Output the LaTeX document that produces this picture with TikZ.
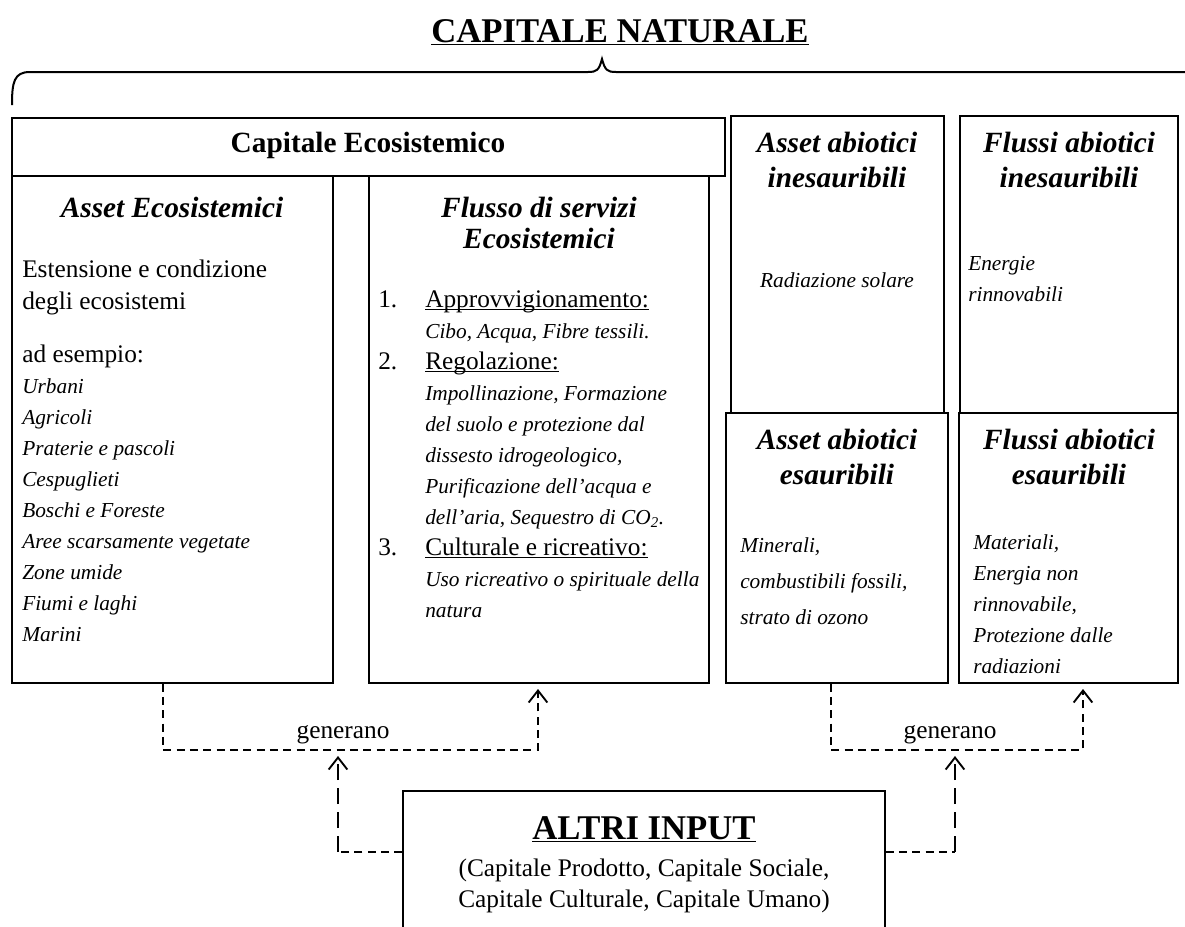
\documentclass[tikz,border=0pt]{standalone}
\usepackage{fontspec}
\setmainfont{Liberation Serif}
\usetikzlibrary{arrows.meta}
\usetikzlibrary{fit}
\tikzset{>={Straight Barb[length=9pt,width=14pt,line width=1.4pt]}}
\tikzset{
  panel/.style={draw, line width=0.8pt, rectangle, inner sep=0pt},
  titlebf/.style={font=\fontsize{26}{30}\selectfont\bfseries, anchor=base, inner sep=0pt},
  head/.style={font=\fontsize{22}{26.25}\selectfont\bfseries\itshape, align=center, anchor=base, inner sep=0pt},
  body/.style={font=\fontsize{19}{23.25}\selectfont, align=left, anchor=base west, inner sep=0pt},
  bodyit/.style={font=\fontsize{16}{23.25}\selectfont\itshape, align=left, anchor=base west, inner sep=0pt},
  genline/.style={line width=1.4pt, dash pattern=on 6pt off 4pt},
  altline/.style={line width=1.9pt, dash pattern=on 12pt off 6pt}
}
\newcommand{\ital}[1]{{\fontsize{16}{23.25}\selectfont\itshape #1}}
\newsavebox{\sottobox}
\newcommand{\sottol}[2][0.8pt]{\sbox{\sottobox}{#2}\rlap{\rule[-2.6pt]{\wd\sottobox}{#1}}\usebox{\sottobox}}

\begin{document}
\begin{tikzpicture}[x=0.75pt,y=-0.75pt]
\useasboundingbox (0,0) rectangle (1185,926);
\clip (0,0) rectangle (1185,926);

% title and brace
\node[titlebf] (titolo) at (620,42) {\sottol[1.4pt]{CAPITALE NATURALE}};
\draw[line width=1.5pt] (12,105) .. controls (12,82) and (14,72) .. (30,72) -- (588,72)
  .. controls (597,72) and (599,70) .. (602,59) .. controls (605,70) and (607,72) .. (616,72) -- (1200,72);

% boxes
\node[panel, fit={(12,118) (725,176)}] (capeco) {};
\node[panel, fit={(12,176) (333,683)}] (aseco) {};
\node[panel, fit={(369,176) (709,683)}] (flusso) {};
\node[panel, fit={(731,116) (944,413)}] (asin) {};
\node[panel, fit={(960,116) (1178,413)}] (flin) {};
\node[panel, fit={(726,413) (948,683)}] (asesa) {};
\node[panel, fit={(959,413) (1178,683)}] (flesa) {};
\node[panel, fit={(403,791) (885,950)}] (altri) {};

% capitale ecosistemico
\node[titlebf, font=\fontsize{22}{26}\selectfont\bfseries] (capetxt) at (368,152) {Capitale Ecosistemico};

% asset ecosistemici (multi-line nodes sit on their last baseline)
\node[head] (asecohd) at (172,217) {Asset Ecosistemici};
\node[body, font=\fontsize{19}{24}\selectfont] (estens) at (22,309) {Estensione e condizione\\degli ecosistemi};
\node[body] (esempi) at (22,641) {ad esempio:\\\ital{Urbani}\\\ital{Agricoli}\\\ital{Praterie e pascoli}\\\ital{Cespuglieti}\\\ital{Boschi e Foreste}\\\ital{Aree scarsamente vegetate}\\\ital{Zone umide}\\\ital{Fiumi e laghi}\\\ital{Marini}};

% flusso di servizi
\node[head, font=\fontsize{22}{23.25}\selectfont\bfseries\itshape] (flussohd) at (539,248) {Flusso di servizi\\Ecosistemici};
\node[body] (num1) at (378,307) {1.};
\node[body] (num2) at (378,369) {2.};
\node[body] (num3) at (378,555) {3.};
\node[body] (servizi) at (425,617) {\sottol{Approvvigionamento:}\\\ital{Cibo, Acqua, Fibre tessili.}\\\sottol{Regolazione:}\\\ital{Impollinazione, Formazione}\\\ital{del suolo e protezione dal}\\\ital{dissesto idrogeologico,}\\\ital{Purificazione dell’acqua e}\\\ital{dell’aria, Sequestro di CO\textsubscript{2}.}\\\sottol{Culturale e ricreativo:}\\\ital{Uso ricreativo o spirituale della}\\\ital{natura}};

% abiotici
\node[head] (asinhd) at (837,187) {Asset abiotici\\inesauribili};
\node[bodyit, anchor=base] (radsol) at (837,287) {Radiazione solare};
\node[head] (flinhd) at (1069,187) {Flussi abiotici\\inesauribili};
\node[bodyit] (enrin) at (968,301) {Energie\\rinnovabili};
\node[head] (asesahd) at (837,484) {Asset abiotici\\esauribili};
\node[bodyit, font=\fontsize{16}{27}\selectfont\itshape] (miner) at (740,624) {Minerali,\\combustibili fossili,\\strato di ozono};
\node[head] (flesahd) at (1069,484) {Flussi abiotici\\esauribili};
\node[bodyit] (mater) at (973,673) {Materiali,\\Energia non\\rinnovabile,\\Protezione dalle\\radiazioni};

% altri input
\node[titlebf] (altrihd) at (644,839) {\sottol[1.4pt]{ALTRI INPUT}};
\node[body, align=center, anchor=base] (altritxt) at (644,907) {(Capitale Prodotto, Capitale Sociale,\\Capitale Culturale, Capitale Umano)};

% generano (left)
\coordinate (g1l) at (163,750);
\coordinate (g1r) at (538,750);
\coordinate (g1t) at (538,689);
\draw[genline, ->] (aseco.south -| g1l) -- (g1l) -- (g1r) -- (g1t);
\node[body, anchor=base] (gen1) at (343,738) {generano};
\coordinate (a1) at (338,852);
\coordinate (a1t) at (338,756);
\draw[genline] (altri.west |- a1) -- (a1);
\draw[altline, ->] (a1) -- (a1t);

% generano (right)
\coordinate (g2l) at (831,750);
\coordinate (g2r) at (1083,750);
\coordinate (g2t) at (1083,689);
\draw[genline, ->] (asesa.south -| g2l) -- (g2l) -- (g2r) -- (g2t);
\node[body, anchor=base] (gen2) at (950,738) {generano};
\coordinate (a2) at (955,852);
\coordinate (a2t) at (955,756);
\draw[genline] (altri.east |- a2) -- (a2);
\draw[altline, ->] (a2) -- (a2t);
\end{tikzpicture}
\end{document}
